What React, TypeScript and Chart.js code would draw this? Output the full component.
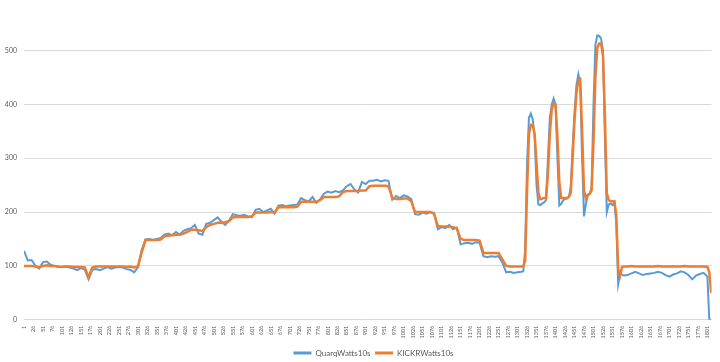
import React, { useEffect, useRef } from "react";
import { Chart, registerables } from "chart.js";

Chart.register(...registerables);

const sampleSeconds: number[] = [
  1, 11, 21, 31, 41, 51, 61, 71, 81, 91,
  101, 111, 121, 131, 141, 151, 161, 171, 181, 191,
  201, 211, 221, 231, 241, 251, 261, 271, 281, 291,
  301, 311, 321, 331, 341, 351, 361, 371, 381, 391,
  401, 411, 421, 431, 441, 451, 461, 471, 481, 491,
  501, 511, 521, 531, 541, 551, 561, 571, 581, 591,
  601, 611, 621, 631, 641, 651, 661, 671, 681, 691,
  701, 711, 721, 731, 741, 751, 761, 771, 781, 791,
  801, 811, 821, 831, 841, 851, 861, 871, 881, 891,
  901, 911, 921, 931, 941, 951, 961, 971, 981, 991,
  1001, 1011, 1021, 1031, 1041, 1051, 1061, 1071, 1081, 1091,
  1101, 1111, 1121, 1131, 1141, 1151, 1161, 1171, 1181, 1191,
  1201, 1211, 1221, 1231, 1241, 1251, 1261, 1271, 1281, 1291,
  1301, 1311,
  1316, 1321, 1326, 1331, 1336, 1341, 1346, 1351, 1356, 1361,
  1366, 1371, 1376, 1381, 1386, 1391, 1396, 1401, 1406, 1411,
  1416, 1421, 1426, 1431, 1436, 1441, 1446, 1451, 1456, 1461,
  1466, 1471, 1476, 1481, 1486, 1491, 1496, 1501, 1506, 1511,
  1516, 1521, 1526, 1531, 1536, 1541, 1546, 1551, 1556, 1561,
  1566, 1571, 1576,
  1581, 1591, 1601, 1611, 1621, 1631, 1641, 1651, 1661, 1671,
  1681, 1691, 1701, 1711, 1721, 1731, 1741, 1751, 1761, 1771,
  1781, 1791, 1801, 1806, 1811,
];

const quarqWatts: number[] = [
  128, 110, 111, 100, 95, 107, 108, 102, 100, 98,
  98, 99, 97, 95, 92, 96, 93, 75, 93, 94,
  92, 95, 98, 95, 97, 98, 97, 94, 93, 88,
  97, 130, 149, 150, 148, 150, 152, 158, 160, 157,
  163, 158, 165, 168, 170, 176, 160, 158, 178, 180,
  185, 190, 182, 176, 184, 196, 194, 193, 195, 192,
  190, 204, 206, 200, 203, 206, 197, 212, 213, 211,
  212, 213, 214, 226, 222, 220, 228, 217, 224, 234,
  238, 236, 239, 237, 240, 248, 252, 242, 236, 256,
  252, 258, 258, 260, 257, 259, 258, 223, 230, 226,
  231, 229, 224, 196, 195, 199, 197, 200, 198, 168,
  172, 170, 176, 168, 171, 140, 142, 143, 141, 144,
  143, 118, 116, 118, 117, 118, 106, 88, 89, 87,
  88, 89,
  90, 130, 290, 375, 383, 372, 340, 250, 214, 213,
  216, 218, 222, 300, 375, 400, 411, 400, 300, 212,
  215, 222, 224, 225, 228, 245, 320, 385, 435, 456,
  440, 300, 192, 215, 232, 234, 245, 400, 510, 528,
  527, 522, 500, 340, 200, 214, 216, 213, 218, 180,
  66, 86, 84,
  82, 83, 86, 89, 86, 83, 85, 86, 87, 89,
  87, 83, 80, 84, 86, 90, 88, 83, 75, 82,
  85, 87, 80, 0, 0,
];

const kickrWatts: number[] = [
  100, 100, 100, 99, 97, 100, 101, 100, 100, 99,
  98, 99, 99, 98, 98, 98, 97, 79, 97, 99,
  99, 99, 99, 99, 99, 99, 99, 98, 99, 97,
  99, 125, 148, 148, 148, 148, 149, 155, 156, 157,
  158, 158, 160, 163, 167, 167, 166, 165, 172, 176,
  178, 180, 180, 181, 183, 190, 191, 191, 191, 191,
  192, 199, 199, 199, 199, 200, 199, 209, 209, 209,
  209, 209, 210, 219, 219, 219, 219, 219, 222, 228,
  228, 228, 228, 229, 237, 239, 239, 239, 239, 240,
  240, 248, 249, 249, 249, 249, 248, 226, 224, 224,
  225, 225, 220, 200, 200, 200, 200, 200, 197, 174,
  173, 173, 173, 172, 170, 150, 148, 148, 148, 148,
  147, 124, 124, 124, 124, 124, 112, 100, 99, 99,
  99, 99,
  99, 110, 240, 345, 362, 361, 345, 290, 235, 224,
  225, 226, 226, 270, 345, 390, 401, 400, 340, 255,
  226, 226, 226, 226, 228, 235, 300, 370, 420, 445,
  447, 350, 240, 225, 232, 234, 240, 330, 450, 505,
  513, 513, 490, 380, 235, 222, 220, 220, 220, 195,
  95, 82, 98,
  99, 99, 100, 99, 99, 99, 99, 99, 99, 100,
  99, 99, 99, 99, 99, 99, 100, 99, 99, 99,
  99, 99, 98, 88, 50,
];

const xTickLabels: number[] = [
  1, 26, 51, 76, 101, 126, 151, 176, 201, 226, 251, 276, 301, 326, 351, 376,
  401, 426, 451, 476, 501, 526, 551, 576, 601, 626, 651, 676, 701, 726, 751,
  776, 801, 826, 851, 876, 901, 926, 951, 976, 1001, 1026, 1051, 1076, 1101,
  1126, 1151, 1176, 1201, 1226, 1251, 1276, 1301, 1326, 1351, 1376, 1401,
  1426, 1451, 1476, 1501, 1526, 1551, 1576, 1601, 1626, 1651, 1676, 1701,
  1726, 1751, 1776, 1801,
];

const yTickValues: number[] = [0, 100, 200, 300, 400, 500];

const seriesNames = ["QuarqWatts10s", "KICKRWatts10s"];
const seriesColors = ["#5B9BD5", "#ED7D31"];

const legendShift = {
  id: "legendShift",
  afterLayout(chart: any) {
    const l = chart.legend;
    if (l) {
      l.left += 14;
      l.right += 14;
    }
  },
};

export default function App() {
  const canvasRef = useRef<HTMLCanvasElement>(null);

  useEffect(() => {
    if (!canvasRef.current) return;
    const quarqPoints = sampleSeconds.map((s, i) => ({ x: s, y: quarqWatts[i] }));
    const kickrPoints = sampleSeconds.map((s, i) => ({ x: s, y: kickrWatts[i] }));
    const textColor = "#595959";
    const family = "Lato, 'Liberation Sans', sans-serif";

    const chart = new Chart(canvasRef.current, {
      type: "line",
      data: {
        datasets: [
          {
            label: seriesNames[0],
            data: quarqPoints,
            borderColor: seriesColors[0],
            backgroundColor: seriesColors[0],
            borderWidth: 2,
            pointRadius: 0,
            tension: 0,
            order: 2,
          },
          {
            label: seriesNames[1],
            data: kickrPoints,
            borderColor: seriesColors[1],
            backgroundColor: seriesColors[1],
            borderWidth: 2.5,
            pointRadius: 0,
            tension: 0,
            order: 1,
          },
        ],
      },
      plugins: [legendShift],
      options: {
        animation: false,
        responsive: true,
        maintainAspectRatio: false,
        layout: { padding: { left: 0, right: 1, top: 0, bottom: 0 } },
        plugins: {
          tooltip: { enabled: false },
          legend: {
            position: "bottom",
            labels: {
              boxWidth: 18,
              boxHeight: 3,
              padding: 4.5,
              color: textColor,
              font: { family, size: 8 },
              sort: (a: any, b: any) => a.datasetIndex - b.datasetIndex,
              generateLabels: (c: any) =>
                (Chart.defaults.plugins.legend.labels as any)
                  .generateLabels(c)
                  .map((l: any) => ({ ...l, lineWidth: 0, fillStyle: l.strokeStyle })),
            },
          },
        },
        scales: {
          x: {
            type: "linear",
            min: 1,
            max: 1812,
            afterBuildTicks: (s: any) => {
              s.ticks = xTickLabels.map((v) => ({ value: v }));
            },
            ticks: {
              autoSkip: false,
              minRotation: 90,
              maxRotation: 90,
              padding: 6,
              color: textColor,
              font: { family, size: 5.5 },
              callback: (v: any) => String(v),
            },
            grid: { display: false, drawTicks: false },
            border: { display: false },
          },
          y: {
            min: 0,
            max: 573,
            afterBuildTicks: (s: any) => {
              s.ticks = yTickValues.map((v) => ({ value: v }));
            },
            afterFit: (s: any) => {
              s.width = 24;
            },
            ticks: {
              padding: 7,
              color: textColor,
              font: { family, size: 7 },
              callback: (v: any) => String(v),
            },
            grid: { color: "#D9D9D9", drawTicks: false },
            border: { display: false },
          },
        },
      },
    } as any);

    return () => chart.destroy();
  }, []);

  return (
    <div
      style={{
        position: "fixed",
        left: 0,
        top: 0,
        width: 720,
        height: 362,
        overflow: "hidden",
        background: "#ffffff",
      }}
    >
      <div style={{ position: "relative", width: 720, height: 367 }}>
        <canvas ref={canvasRef} />
      </div>
    </div>
  );
}
